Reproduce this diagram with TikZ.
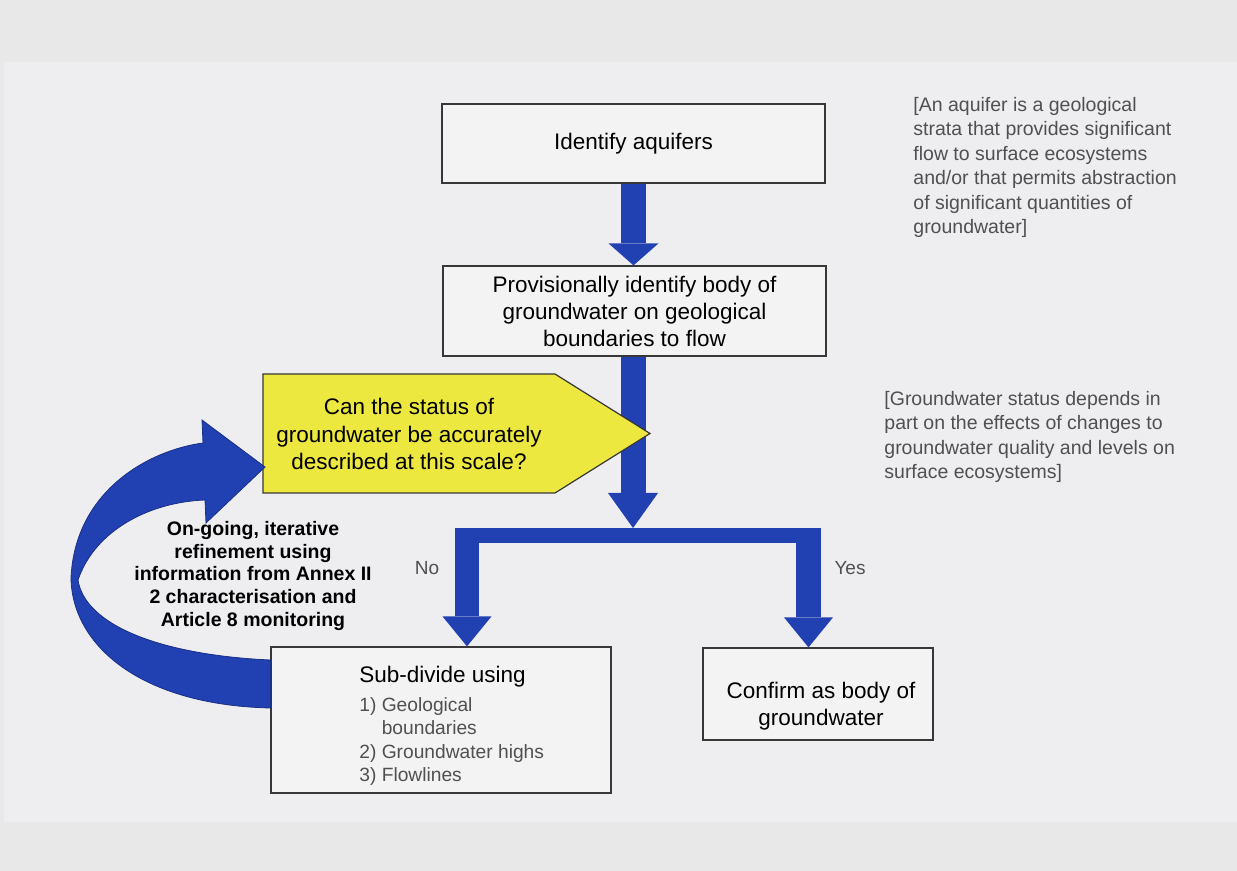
\documentclass[tikz,border=0pt]{standalone}
\usepackage{fontspec}
\setmainfont{Liberation Sans}
\usetikzlibrary{arrows.meta,calc}

\definecolor{flowblue}{RGB}{33,64,178}
\definecolor{askyellow}{RGB}{236,232,64}
\definecolor{notegrey}{RGB}{80,80,80}
\definecolor{boxline}{RGB}{55,55,55}
\definecolor{boxfill}{RGB}{243,243,244}
\definecolor{pageout}{RGB}{232,232,232}
\definecolor{pagein}{RGB}{238,238,241}

\begin{document}
\begin{tikzpicture}[x=0.5pt,y=-0.5pt,
  flowbox/.style={draw=boxline,fill=boxfill,line width=0.6pt,inner sep=0pt,align=center,
    font=\fontsize{11.25}{13.5}\selectfont},
  flowtext/.style={align=center,inner sep=0pt,font=\fontsize{11.25}{13.7}\selectfont},
  notetext/.style={text=notegrey,align=left,inner sep=0pt,anchor=north west,
    font=\fontsize{9.75}{12.2}\selectfont},
  branchlabel/.style={text=notegrey,inner sep=0pt,font=\fontsize{9.5}{12}\selectfont},
  blockarrow/.style={flowblue,line width=12.5pt}]

  % page background
  \fill[pageout] (0,0) rectangle (1237,871);
  \fill[pagein] (4,62) rectangle (1237,822);
  \useasboundingbox (0,0) rectangle (1237,871);

  % boxes
  \node[flowbox,minimum width=191.5pt,minimum height=39.5pt] (idbox) at (633.5,143.5) {Identify aquifers};
  \node[flowbox,minimum width=191.5pt,minimum height=45pt] (provbox) at (634.5,311)
    {Provisionally identify body of\\groundwater on geological\\boundaries to flow};
  \node[flowbox,minimum width=170pt,minimum height=73pt] (subbox) at (441,720) {};
  \node[flowbox,minimum width=115pt,minimum height=46pt] (confbox) at (818,694) {};

  % first step down
  \draw[blockarrow,-{Triangle[width=25pt,length=11pt,line width=0pt]}]
    (idbox.south) -- (idbox.south |- provbox.north);

  % down to the split
  \coordinate (split) at (633,528);
  \draw[blockarrow,-{Triangle[width=25pt,length=17.5pt,line width=0pt]}]
    (provbox.south -| split) -- (split);

  % question, drawn over the shaft
  \filldraw[fill=askyellow,draw=boxline,line width=0.6pt]
    (263,374) -- (555,374) -- (650,433.5) -- (555,493) -- (263,493) -- cycle;
  \node[flowtext] (askbox) at (409,434)
    {Can the status of\\groundwater be accurately\\described at this scale?};

  % split into no / yes
  \coordinate (nojoint) at (467,528);
  \coordinate (yesjoint) at (808.5,528);
  \fill[flowblue] ($(nojoint)+(-12,0)$) rectangle ($(yesjoint)+(12.5,15)$);
  \draw[blockarrow,line width=12pt,-{Triangle[width=24.5pt,length=15pt,line width=0pt]}]
    (nojoint) -- (nojoint |- subbox.north);
  \draw[blockarrow,-{Triangle[width=24.5pt,length=15pt,line width=0pt]}]
    (yesjoint) -- (yesjoint |- confbox.north);
  \node[branchlabel] (nolabel) at (427,568) {No};
  \node[branchlabel] (yeslabel) at (850,568) {Yes};

  % loop back from sub-divide to the question
  \filldraw[fill=flowblue,draw=flowblue!75!black,line width=0.4pt]
    (203,443) .. controls (150,450) and (75,490) .. (71,578)
    .. controls (72,645) and (140,705) .. (subbox.west |- 0,708)
    -- (subbox.west |- 0,660)
    .. controls (160,655) and (85,625) .. (78,580)
    .. controls (95,530) and (150,502) .. (205,500)
    -- (206,523) -- (265,467) -- (202,420) -- cycle;
  \node[flowtext,font=\bfseries\fontsize{9.75}{11.5}\selectfont] (looptext) at (253,576)
    {On-going, iterative\\refinement using\\information from Annex II\\2 characterisation and\\Article 8 monitoring};

  % box texts
  \node[anchor=north west,align=left,inner sep=0pt,text=notegrey,
    font=\fontsize{9.6}{11.67}\selectfont] (sublist) at (359,666)
    {{\color{black}\fontsize{11.25}{13.5}\selectfont Sub-divide using}\\[2.8pt]
     1) Geological\\\phantom{1) }boundaries\\2) Groundwater highs\\3) Flowlines};
  \node[flowtext] (conftext) at (821,706) {Confirm as body of\\groundwater};

  % side notes
  \node[notetext] (aquinote) at (913,97) {[An aquifer is a geological\\strata that provides significant\\flow to surface ecosystems\\and/or that permits abstraction\\of significant quantities of\\groundwater]};
  \node[notetext] (statusnote) at (884,391) {[Groundwater status depends in\\part on the effects of changes to\\groundwater quality and levels on\\surface ecosystems]};
\end{tikzpicture}
\end{document}
